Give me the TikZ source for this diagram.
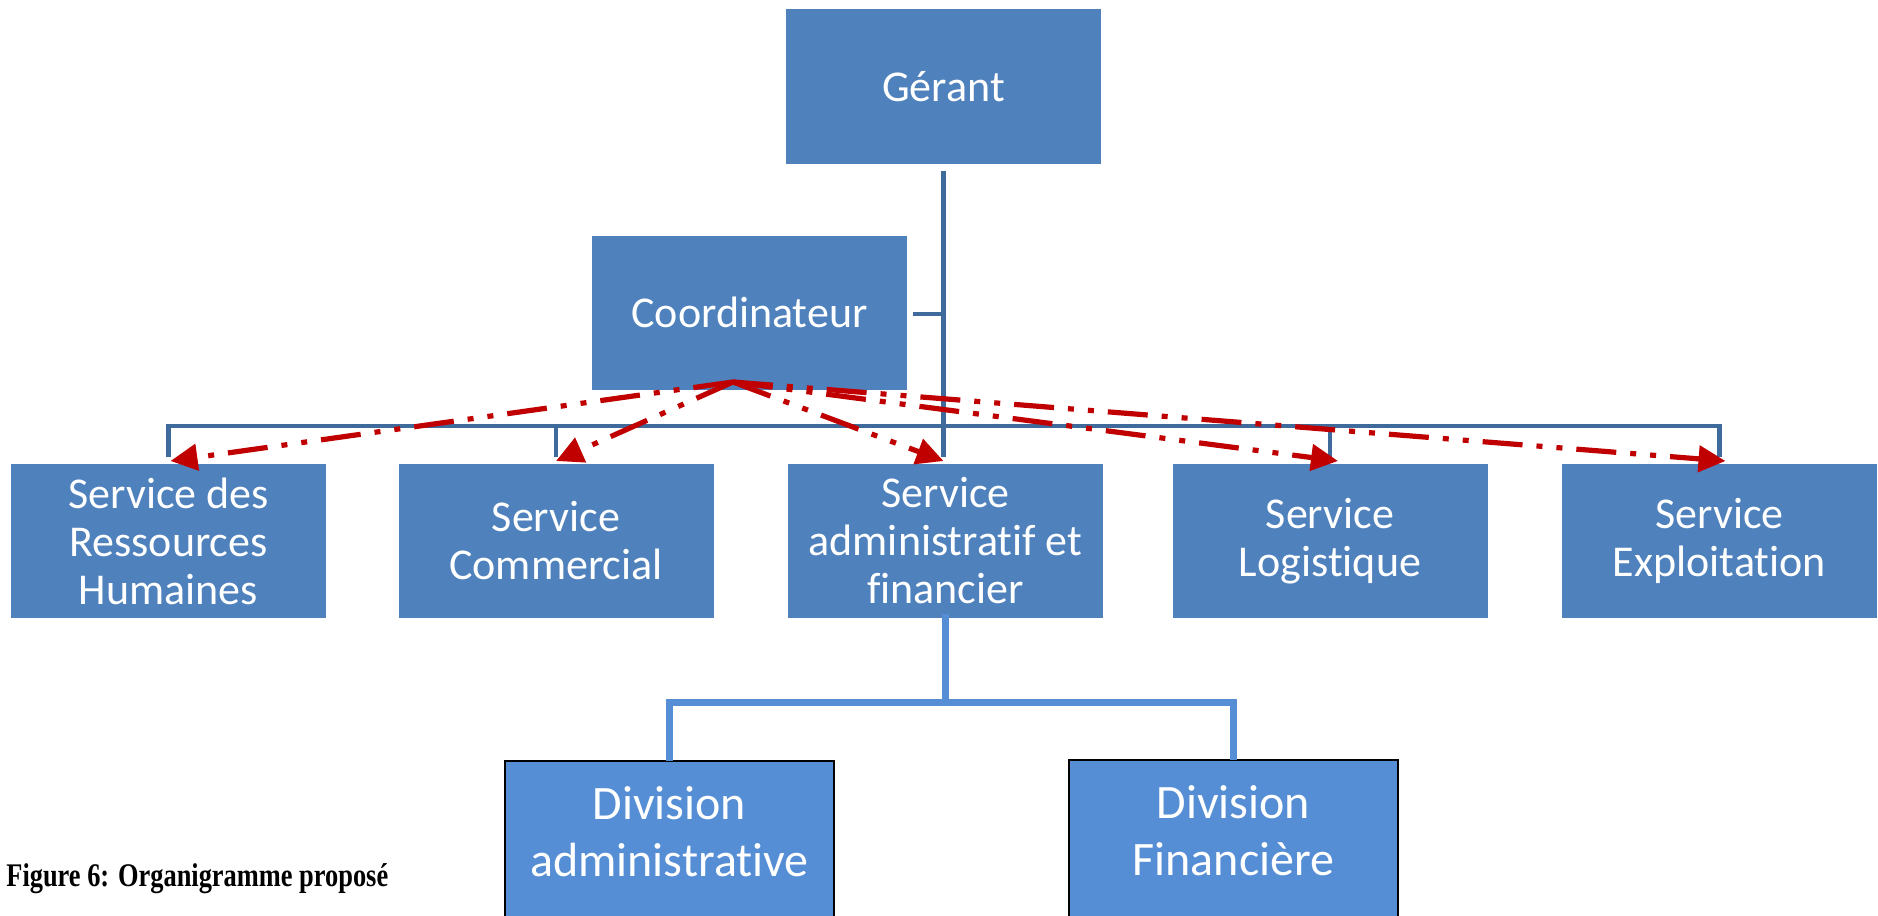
\documentclass[tikz,border=0pt]{standalone}
\usepackage{fontspec}
\newfontfamily\boxfont[Ligatures=NoCommon]{Carlito}
\newfontfamily\capfont[FakeStretch=0.8]{Liberation Serif}
\usetikzlibrary{arrows.meta,calc}
\definecolor{boxblue}{HTML}{4F81BD}
\definecolor{divblue}{HTML}{558ED5}
\definecolor{orgline}{HTML}{3F6A9C}
\definecolor{arrred}{HTML}{C00000}
\tikzset{
  box/.style={fill=boxblue, draw=none, minimum width=157.5pt, minimum height=77pt, inner sep=0pt, outer sep=0pt,
    text=white, align=center, font=\boxfont\fontsize{22}{24}\selectfont},
  divbox/.style={fill=divblue, draw=black, line width=1pt, minimum width=164.5pt, minimum height=90pt, inner sep=0pt, outer sep=0pt, anchor=north},
  divtxt/.style={text=white, align=center, font=\boxfont\fontsize{24}{28.5}\selectfont, inner sep=0pt},
  org/.style={draw=orgline, line width=2.2pt},
  sub/.style={draw=divblue, line width=3.5pt},
  redarr/.style={draw=arrred, line width=2.6pt, dash pattern=on 20pt off 7pt on 3pt off 7pt on 3pt off 7pt,
    -{Triangle[length=13.5pt,width=13pt]}},
}
\begin{document}
\begin{tikzpicture}[x=0.5pt,y=-0.5pt]
\useasboundingbox (0,0) rectangle (1878,915);
\clip (0,0) rectangle (1878,915);
% boxes
\node[box] (g) at (943.5,86.5) {Gérant};
\node[box] (co) at (749.5,312.5) {Coordinateur};
\node[box] (rh) at (168.5,541) {Service des\\Ressources\\Humaines};
\node[box] (cm) at (556,541) {Service\\Commercial};
\node[box] (adm) at (945.5,541) {Service\\administratif et\\financier};
\node[box] (lg) at (1330,541) {Service\\Logistique};
\node[box] (ex) at (1719.5,541) {Service\\Exploitation};
\node[divbox] (da) at (669.5,761) {};
\node[divbox] (df) at (1233.5,760) {};
\node[divtxt] (dat) at (669.5,832) {Division\\administrative};
\node[divtxt] (dft) at (1233.5,831) {Division\\Financière};
% caption
\node[anchor=base west, inner sep=0pt, font=\capfont\bfseries\fontsize{16.5}{19}\selectfont] (cap) at (6,886) {Figure 6: Organigramme proposé};
% org connectors
\coordinate (trunk) at (943.5,457);
\draw[org] ($(g.south)+(0,7)$) -- (trunk);
\draw[org] ($(co.east)+(6,1.5)$) -- ($(co.east)+(36,1.5)$);
\draw[org] ($(rh.north)+(0,-7)$) |- ($(ex.north)+(0,-38)$) -- ($(ex.north)+(0,-7)$);
\draw[org] ($(cm.north)+(0,-7)$) -- ($(cm.north)+(0,-38)$);
\draw[org] ($(lg.north)+(0,-7)$) -- ($(lg.north)+(0,-38)$);
% sub connectors
\coordinate (subbar) at ($(adm.south)+(0,84)$);
\draw[sub] ($(adm.south)+(0,-4)$) -- (subbar);
\draw[sub] (da.north) |- (subbar) -| (df.north);
% red arrows
\coordinate (apex) at (733,382);
\draw[redarr] (apex) -- ($(rh.north)+(2,-3)$);
\draw[redarr] (apex) -- ($(cm.north)+(0,-3)$);
\draw[redarr] (apex) -- ($(adm.north)+(-2,-3)$);
\draw[redarr] (apex) -- ($(lg.north)+(8,-3)$);
\draw[redarr] (apex) -- ($(ex.north)+(6,-3)$);
\end{tikzpicture}
\end{document}
